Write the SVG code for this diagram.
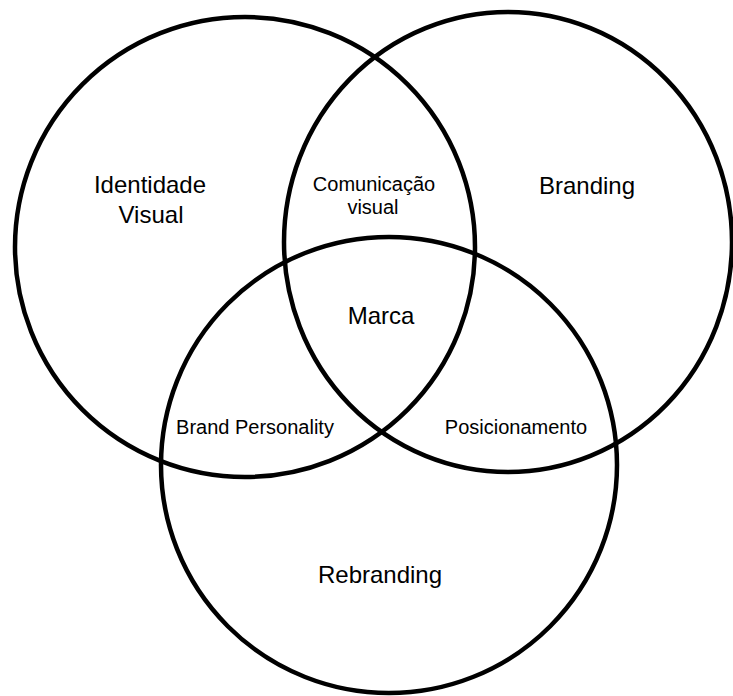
<svg xmlns="http://www.w3.org/2000/svg" width="733" height="696" viewBox="0 0 733 696">
<style>
.c{fill:none;stroke:#000;stroke-width:4.5}
.t{font-family:"Liberation Sans",Arial,sans-serif;fill:#000;text-anchor:middle}
.big{font-size:24px}
.sm{font-size:20px}
</style>
<rect width="733" height="696" fill="#fff"/>
<g id="identidade-visual">
<circle class="c" cx="245" cy="247" r="230"/>
<text class="t big" x="150" y="193">Identidade</text>
<text class="t big" x="151" y="223">Visual</text>
</g>
<g id="branding">
<ellipse class="c" cx="508" cy="242" rx="224" ry="230"/>
<text class="t big" x="587" y="194">Branding</text>
</g>
<g id="rebranding">
<circle class="c" cx="389" cy="465" r="228"/>
<text class="t big" x="380" y="583">Rebranding</text>
</g>
<g id="comunicacao-visual">
<text class="t sm" x="374" y="191">Comunicação</text>
<text class="t sm" x="373" y="214">visual</text>
</g>
<g id="marca">
<text class="t big" x="381" y="324">Marca</text>
</g>
<g id="brand-personality">
<text class="t sm" x="255" y="434">Brand Personality</text>
</g>
<g id="posicionamento">
<text class="t sm" x="516" y="434">Posicionamento</text>
</g>
<g id="connectors"></g>
</svg>
